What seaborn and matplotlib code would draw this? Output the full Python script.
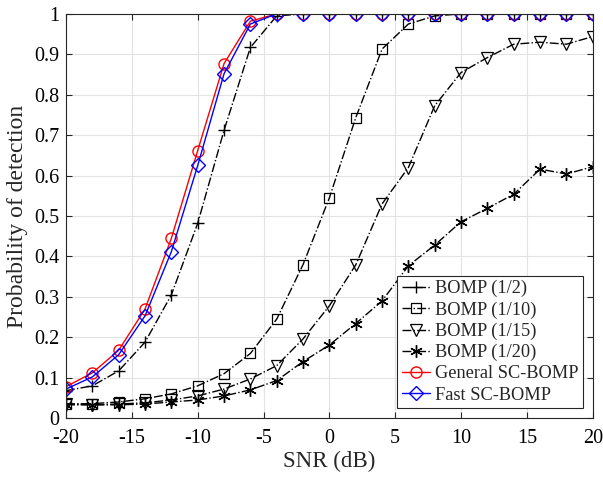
import seaborn as sns
import matplotlib.pyplot as plt
import numpy as np
import pandas as pd

snr = list(range(-20, 21, 2))

bomp_1_2 = [0.068, 0.080, 0.117, 0.188, 0.305, 0.482, 0.712, 0.917, 0.995, 1.0, 1.0,
            1.0, 1.0, 1.0, 1.0, 1.0, 1.0, 1.0, 1.0, 1.0, 1.0]
bomp_1_10 = [0.035, 0.036, 0.040, 0.048, 0.060, 0.080, 0.110, 0.160, 0.245, 0.380, 0.545,
             0.743, 0.913, 0.975, 0.995, 1.0, 1.0, 1.0, 1.0, 1.0, 1.0]
bomp_1_15 = [0.035, 0.033, 0.035, 0.038, 0.045, 0.055, 0.072, 0.097, 0.130, 0.196, 0.278,
             0.379, 0.530, 0.620, 0.773, 0.855, 0.892, 0.925, 0.930, 0.925, 0.944]
bomp_1_20 = [0.033, 0.033, 0.033, 0.035, 0.040, 0.045, 0.055, 0.070, 0.093, 0.140, 0.181,
             0.234, 0.290, 0.377, 0.428, 0.486, 0.519, 0.554, 0.616, 0.604, 0.622]
general_sc = [0.078, 0.112, 0.168, 0.270, 0.445, 0.662, 0.877, 0.982, 1.0, 1.0, 1.0,
              1.0, 1.0, 1.0, 1.0, 1.0, 1.0, 1.0, 1.0, 1.0, 1.0]
fast_sc = [0.072, 0.102, 0.157, 0.253, 0.412, 0.625, 0.852, 0.975, 1.0, 1.0, 1.0,
           1.0, 1.0, 1.0, 1.0, 1.0, 1.0, 1.0, 1.0, 1.0, 1.0]

labels = ["BOMP (1/2)", "BOMP (1/10)", "BOMP (1/15)", "BOMP (1/20)",
          "General SC-BOMP", "Fast SC-BOMP"]
series = [bomp_1_2, bomp_1_10, bomp_1_15, bomp_1_20, general_sc, fast_sc]
ytick_labels = ["0", "0.1", "0.2", "0.3", "0.4", "0.5", "0.6", "0.7", "0.8", "0.9", "1"]

sns.set_theme(style="ticks")
plt.rcParams['font.family'] = ['Liberation Serif', 'DejaVu Serif']
plt.rcParams['axes.unicode_minus'] = False

# MATLAB-like look: black dash-dot baselines, coloured solid proposed methods
styles = {
    "BOMP (1/2)": dict(color="black", ls="-.", marker="+", ms=9, mew=1.0),
    "BOMP (1/10)": dict(color="black", ls="-.", marker="s", ms=7, mfc="none", mew=0.9),
    "BOMP (1/15)": dict(color="black", ls="-.", marker="v", ms=9, mfc="none", mew=0.9),
    "BOMP (1/20)": dict(color="black", ls="-.", marker=(6, 2, 0), ms=9, mew=1.0),
    "General SC-BOMP": dict(color="red", ls="-", marker="o", ms=8, mfc="none", mew=1.0),
    "Fast SC-BOMP": dict(color="blue", ls="-", marker="D", ms=7.5, mfc="none", mew=1.0),
}

fig = plt.figure(figsize=(6.03, 4.79), dpi=100)
ax = fig.add_axes([0.1095, 0.127, 0.8735, 0.844])

for lab, vals in zip(labels, series):
    df = pd.DataFrame({"SNR": snr, "Pd": vals})
    st = styles[lab]
    sns.lineplot(data=df, x="SNR", y="Pd", ax=ax, label=lab, color=st["color"],
                 linestyle=st["ls"], marker=st["marker"], markersize=st["ms"],
                 markerfacecolor=st.get("mfc", st["color"]),
                 markeredgecolor=st["color"], markeredgewidth=st["mew"],
                 linewidth=1.0)

ax.set_xlim(-20, 20)
ax.set_ylim(0, 1)
ax.set_xticks(np.arange(-20, 21, 5))
ax.set_yticks(np.arange(0, 1.01, 0.1))
ax.set_yticklabels(ytick_labels)
ax.set_xlabel("SNR (dB)", fontsize=16.5, labelpad=2)
ax.set_ylabel("Probability of detection", fontsize=17, labelpad=4)
ax.tick_params(direction="in", top=True, right=True, labelsize=14.5, length=4, width=0.8,
               colors="#262626", labelcolor="black")
ax.tick_params(axis="x", pad=8)
ax.tick_params(axis="y", pad=5)
ax.grid(True, color="#e3e3e3", linewidth=0.8)
ax.set_axisbelow(True)
for sp in ax.spines.values():
    sp.set_color("#262626")
    sp.set_linewidth(0.8)

leg = ax.legend(loc="lower right", fontsize=13.2, frameon=True, fancybox=False,
                edgecolor="#262626", framealpha=1, handlelength=1.55, handletextpad=0.25,
                labelspacing=0.22, borderpad=0.25, borderaxespad=0.55)
leg.get_frame().set_linewidth(0.8)

fig.savefig("out.png", dpi=100)
